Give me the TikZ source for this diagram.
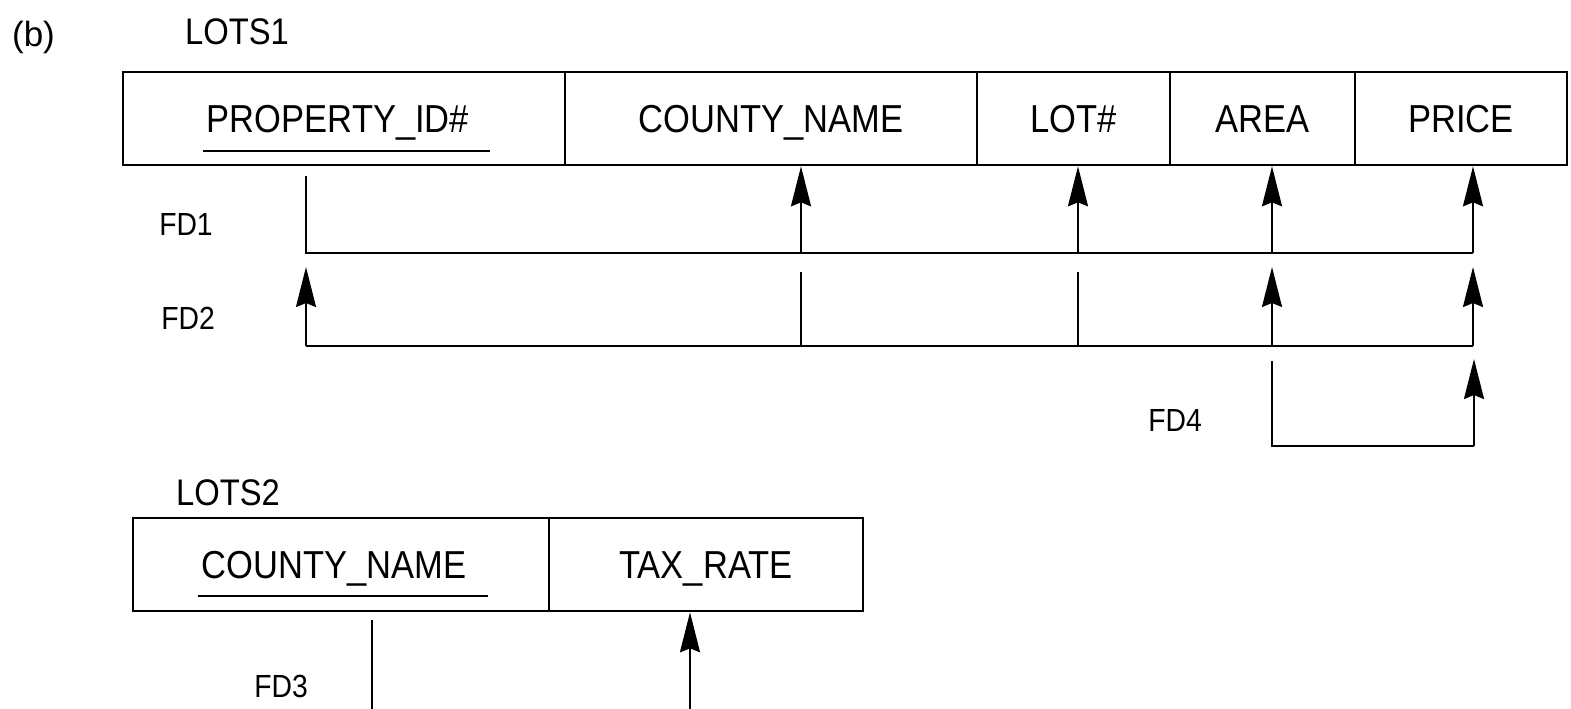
\documentclass[tikz,border=0pt]{standalone}
\usepackage{fontspec}
\setmainfont{Liberation Sans}
\newfontfamily\cellfont{Liberation Sans}[FakeStretch=0.885]
\usetikzlibrary{arrows.meta}
\begin{document}
\begin{tikzpicture}[x=0.5pt,y=-0.5pt,
  cell/.style={draw,line width=1.3pt,rectangle,inner sep=0pt,minimum height=46.5pt,
    text height=14pt,text depth=0pt,font=\cellfont\fontsize{19.5}{22}\selectfont},
  conn/.style={line width=1.1pt},
  arr/.style={line width=1.1pt,-{Stealth[length=20pt,width=10pt,inset=2pt]}},
  ulin/.style={line width=1.1pt},
  fdlab/.style={font=\cellfont\fontsize{16}{18}\selectfont,inner sep=0pt,text height=11pt,text depth=0pt},
  rellab/.style={font=\cellfont\fontsize{18.5}{21}\selectfont,inner sep=0pt,text height=13pt,text depth=0pt},
  figlab/.style={font=\fontsize{17.5}{20}\selectfont,inner sep=0pt}]
\useasboundingbox (0,0) rectangle (1571,708);
\fill[white] (0,0) rectangle (1571,708);
\clip (0,0) rectangle (1571,708);

% titles
\node[figlab] (b) at (33.5,37) {(b)};
\node[rellab] (lots1) at (237,31) {LOTS1};
\node[rellab] (lots2) at (228,492) {LOTS2};

% LOTS1 cells
\node[cell,minimum width=221pt] (prop) at (344,118.5) {PROPERTY\_ID\#\hspace*{6pt}};
\node[cell,minimum width=206pt] (cnty) at (771,118.5) {COUNTY\_NAME};
\node[cell,minimum width=96.5pt] (lot) at (1073.5,118.5) {LOT\#};
\node[cell,minimum width=92.5pt] (area) at (1262.5,118.5) {AREA};
\node[cell,minimum width=106pt] (price) at (1461,118.5) {PRICE};
\draw[ulin] (203,151) -- (490,151);

% LOTS2 cells
\node[cell,minimum width=208pt] (cname) at (341,564.5) {COUNTY\_NAME\hspace*{7pt}};
\node[cell,minimum width=157pt] (tax) at (706,564.5) {TAX\_RATE};
\draw[ulin] (198,596) -- (488,596);

% FD labels
\node[fdlab] (fd1) at (186,224) {FD1};
\node[fdlab] (fd2) at (188,318) {FD2};
\node[fdlab] (fd4) at (1175,420) {FD4};
\node[fdlab] (fd3) at (281,686) {FD3};

% FD1
\coordinate (f1s) at (306,176);
\coordinate (c1) at (801,253);
\coordinate (l1) at (1078,253);
\coordinate (a1) at (1272,253);
\coordinate (p1) at (1473,253);
\draw[conn] (f1s) |- (p1);
\draw[arr] (c1) -- (c1 |- cnty.south);
\draw[arr] (l1) -- (l1 |- lot.south);
\draw[arr] (a1) -- (a1 |- area.south);
\draw[arr] (p1) -- (p1 |- price.south);

% FD2
\coordinate (f2s) at (306,346);
\coordinate (f2t) at (306,267);
\coordinate (c2t) at (801,272);
\coordinate (c2b) at (801,346);
\coordinate (l2t) at (1078,272);
\coordinate (l2b) at (1078,346);
\coordinate (a2b) at (1272,346);
\coordinate (a2t) at (1272,267);
\coordinate (p2b) at (1473,346);
\coordinate (p2t) at (1473,267);
\draw[conn] (f2s) -- (p2b);
\draw[arr] (f2s) -- (f2t);
\draw[conn] (c2t) -- (c2b);
\draw[conn] (l2t) -- (l2b);
\draw[arr] (a2b) -- (a2t);
\draw[arr] (p2b) -- (p2t);

% FD4
\coordinate (f4s) at (1272,361);
\coordinate (f4e) at (1474,446);
\coordinate (f4t) at (1474,359);
\draw[conn] (f4s) |- (f4e);
\draw[arr] (f4e) -- (f4t);

% FD3
\coordinate (f3s) at (372,620);
\coordinate (f3b) at (372,712);
\coordinate (t3b) at (690,712);
\draw[conn] (f3s) -- (f3b);
\draw[arr] (t3b) -- (t3b |- tax.south);
\end{tikzpicture}
\end{document}
